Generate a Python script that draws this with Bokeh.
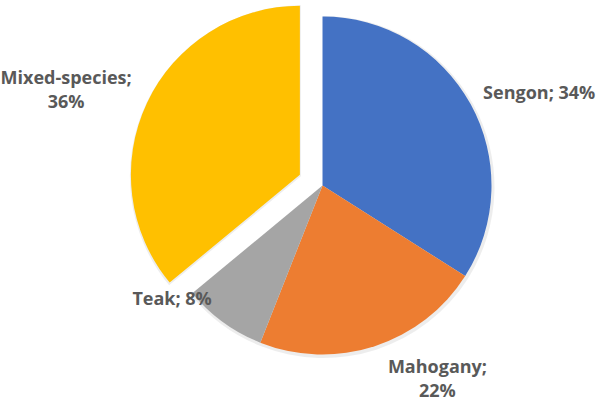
import math
from bokeh.plotting import figure
from bokeh.models import Range1d, ColumnDataSource
from bokeh.core.properties import value
from bokeh.embed import file_html
from bokeh.resources import INLINE

# ---- data ----
categories = ["Sengon", "Mahogany", "Teak", "Mixed-species"]
shares = [34, 22, 8, 36]
colors = ["#4472C4", "#ED7D31", "#A5A5A5", "#FFC000"]
label_texts = ["Sengon; 34%", "Mahogany;\n22%", "Teak; 8%", "Mixed-species;\n36%"]

# ---- layout (pixel units, y measured upward) ----
W, H = 597, 401
cx, cy = 322, H - 185
R = 169
explode = [0, 0, 0, 25]
label_pad = 12
label_off = [(2, 6), (59, -20), (-44, 34), (-70, 9)]
label_align = ["left", "center", "center", "center"]

total = float(sum(shares))
start, end, xs, ys, mids = [], [], [], [], []
cum = 0.0
for v, e in zip(shares, explode):
    a_end = math.radians(90 - cum * 360 / total)
    a_start = math.radians(90 - (cum + v) * 360 / total)
    mid = (a_start + a_end) / 2
    start.append(a_start)
    end.append(a_end)
    mids.append(mid)
    xs.append(cx + e * math.cos(mid))
    ys.append(cy + e * math.sin(mid))
    cum += v

src = ColumnDataSource(dict(x=xs, y=ys, start=start, end=end, color=colors, cat=categories))

p = figure(width=W, height=H, output_backend="svg", toolbar_location=None,
           x_range=Range1d(0, W), y_range=Range1d(0, H),
           min_border=0, outline_line_color=None)
p.axis.visible = False
p.grid.visible = False
p.background_fill_color = "white"
p.border_fill_color = "white"

# soft shadow
shadow = ColumnDataSource(dict(x=[x + 1 for x in xs], y=[y - 1.5 for y in ys], start=start, end=end))
p.wedge(x="x", y="y", radius=R + 2, start_angle="start", end_angle="end",
        source=shadow, fill_color="black", fill_alpha=0.07, line_color=None)
p.wedge(x="x", y="y", radius=R, start_angle="start", end_angle="end",
        source=src, fill_color="color", line_color=None)

lx, ly = [], []
for i, m in enumerate(mids):
    lx.append(xs[i] + (R + label_pad) * math.cos(m) + label_off[i][0])
    ly.append(ys[i] + (R + label_pad) * math.sin(m) + label_off[i][1])

for i in range(len(categories)):
    p.text(x=[lx[i]], y=[ly[i]], text=[label_texts[i]],
           text_font=value("Open Sans"), text_font_style="bold", text_font_size="18px",
           text_color="#595959", text_align=label_align[i], text_baseline="middle",
           text_line_height=1.0)

open("out.html", "w").write(file_html(p, INLINE))
